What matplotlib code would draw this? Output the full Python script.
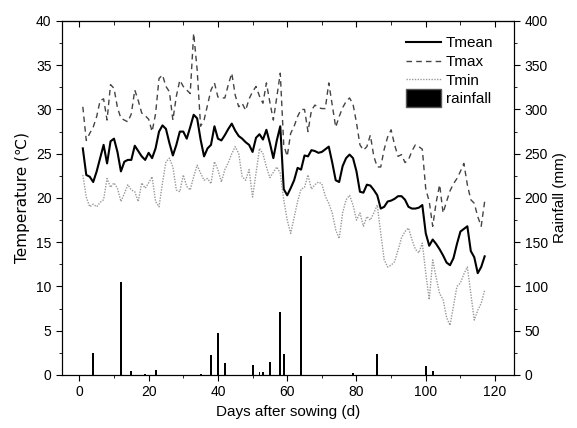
import numpy as np
import matplotlib
matplotlib.use("Agg")
import matplotlib.pyplot as plt
from matplotlib.patches import Patch, Rectangle
from matplotlib.legend_handler import HandlerPatch
from matplotlib.ticker import MultipleLocator

plt.rcParams["font.family"] = ["Liberation Sans", "DejaVu Sans"]

days = np.arange(1, 118)

tmean = [25.6, 22.6, 22.4, 21.8, 23.0, 24.5, 26.0, 23.9, 26.4, 26.7,
         25.2, 23.0, 24.1, 24.3, 24.3, 25.9, 25.3, 24.7, 24.3, 25.1,
         24.5, 25.6, 27.5, 28.2, 27.8, 26.2, 24.8, 26.0, 27.5, 27.5,
         26.7, 28.0, 29.4, 29.0, 26.6, 24.7, 25.6, 26.0, 28.1, 26.7,
         26.5, 27.1, 27.8, 28.4, 27.6, 27.0, 26.7, 26.3, 26.0, 25.2,
         26.8, 27.2, 26.6, 27.7, 26.2, 24.5, 26.5, 28.1, 21.0, 20.3,
         21.1, 22.0, 23.4, 23.2, 24.8, 24.7, 25.4, 25.3, 25.1, 25.2,
         25.5, 25.8, 24.0, 22.0, 21.8, 23.6, 24.5, 24.9, 24.5, 23.0,
         20.7, 20.6, 21.5, 21.4, 20.9, 20.3, 18.8, 19.0, 19.6, 19.7,
         19.9, 20.2, 20.2, 19.8, 19.0, 18.8, 18.8, 18.9, 19.2, 16.0,
         14.6, 15.3, 14.8, 14.2, 13.5, 12.7, 12.4, 13.2, 14.8, 16.2,
         16.5, 16.8, 14.0, 13.3, 11.5, 12.2, 13.4]

tmax = [30.3, 26.5, 27.3, 28.0, 29.2, 31.0, 31.2, 28.8, 32.8, 32.4,
        30.2, 29.0, 28.8, 28.6, 29.5, 32.2, 31.0, 29.6, 29.3, 28.9,
        27.5, 29.5, 33.5, 33.9, 32.6, 32.0, 28.8, 31.5, 33.3, 32.6,
        32.2, 31.8, 38.6, 34.5, 28.1, 28.8, 30.5, 32.2, 33.0, 31.4,
        31.3, 31.3, 32.8, 34.1, 31.6, 30.3, 30.7, 29.9, 31.2, 32.0,
        32.6, 31.5, 30.7, 33.0, 30.8, 28.8, 31.4, 34.1, 26.0, 24.7,
        27.3, 28.1, 29.2, 30.0, 30.0, 27.5, 29.9, 30.5, 30.2, 30.1,
        30.1, 33.0, 30.5, 28.0, 29.2, 30.2, 30.9, 31.3, 30.6, 28.5,
        26.0, 25.4, 25.8, 27.1, 24.7, 23.5, 23.5, 25.5, 26.9, 27.7,
        26.0, 24.7, 24.9, 24.0, 24.3, 25.3, 26.0, 25.8, 25.5, 21.0,
        19.6, 16.8, 19.5, 21.5, 18.3, 19.6, 20.8, 21.6, 22.2, 23.0,
        23.9, 21.5, 19.8, 19.4, 17.9, 16.8, 19.6]

tmin = [22.6, 20.1, 19.0, 19.3, 19.0, 19.5, 19.8, 22.2, 21.2, 21.7,
        21.1, 19.6, 20.5, 21.5, 20.9, 20.7, 19.6, 21.7, 21.1, 21.7,
        22.4, 19.6, 19.0, 21.7, 24.1, 24.5, 23.5, 20.9, 20.7, 22.6,
        21.3, 20.9, 22.4, 23.7, 22.8, 22.0, 22.2, 21.6, 24.1, 23.2,
        21.8, 23.2, 24.0, 25.0, 25.8, 25.0, 22.4, 22.0, 23.2, 20.1,
        22.8, 25.6, 25.0, 23.5, 22.3, 22.9, 23.5, 22.8, 19.8, 17.5,
        16.0, 17.8, 19.6, 21.0, 21.2, 22.6, 21.0, 21.5, 21.8, 21.6,
        20.2, 19.4, 18.3, 16.4, 15.4, 18.3, 19.8, 20.3, 19.2, 17.5,
        18.3, 16.8, 17.9, 17.5, 18.3, 19.2, 16.0, 13.0, 12.2, 12.4,
        12.8, 14.1, 15.5, 16.2, 16.6, 15.3, 14.2, 13.8, 14.9, 11.5,
        8.5, 13.0, 11.0, 9.2, 8.5, 6.5, 5.6, 7.8, 10.0, 10.4,
        11.4, 12.2, 9.2, 6.2, 7.3, 8.1, 9.6]

rain_days = [4, 12, 15, 19, 22, 35, 38, 40, 42, 50, 52, 53, 55, 58, 59, 64, 79, 86, 100, 102]
rain_mm = [25, 105, 4, 1, 6, 1, 23, 47, 14, 11, 3, 3, 15, 71, 24, 134, 2, 24, 10, 4]


def tall_box(legend, orig_handle, xdescent, ydescent, width, height, fontsize):
    # rainfall box in the legend is about as tall as the text
    return Rectangle((-xdescent, -ydescent - 0.35 * height), width, 1.7 * height)


fig = plt.figure(figsize=(5.77, 4.28), dpi=100)
ax1 = fig.add_axes([0.1075, 0.124, 0.7835, 0.827])
ax2 = ax1.twinx()

ax2.bar(rain_days, rain_mm, width=0.55, color="black")
ax1.plot(days, tmean, color="black", lw=1.5, ls="-")
ax1.plot(days, tmax, color="#444444", lw=1.0, ls=(0, (4, 3)))
ax1.plot(days, tmin, color="#999999", lw=1.0, ls=(0, (1, 1)))

ax1.set_xlim(-5, 125.5)
ax1.set_ylim(0, 40)
ax2.set_ylim(0, 400)

ax1.xaxis.set_major_locator(MultipleLocator(20))
ax1.xaxis.set_minor_locator(MultipleLocator(10))
ax1.yaxis.set_major_locator(MultipleLocator(5))
ax1.yaxis.set_minor_locator(MultipleLocator(2.5))
ax2.yaxis.set_major_locator(MultipleLocator(50))
ax2.yaxis.set_minor_locator(MultipleLocator(25))

ax1.tick_params(which="both", direction="out", labelsize=10)
ax1.tick_params(which="major", length=4)
ax1.tick_params(which="minor", length=2)
ax2.tick_params(which="both", direction="out", labelsize=10)
ax2.tick_params(which="major", length=4)
ax2.tick_params(which="minor", length=2)

# mirrored ticks on top, pointing in
top = ax1.secondary_xaxis("top")
top.xaxis.set_major_locator(MultipleLocator(20))
top.xaxis.set_minor_locator(MultipleLocator(10))
top.tick_params(which="both", direction="in", labeltop=False)
top.tick_params(which="major", length=4)
top.tick_params(which="minor", length=3)

ax1.set_xlabel("Days after sowing (d)", fontsize=11)
ax1.set_ylabel("Temperature (\u2103)", fontsize=11, family=["DejaVu Sans"])
ax2.set_ylabel("Rainfall (mm)", fontsize=11)

handles = [
    plt.Line2D([], [], color="black", lw=1.5),
    plt.Line2D([], [], color="#444444", lw=1.0, ls=(0, (4, 3))),
    plt.Line2D([], [], color="#999999", lw=1.0, ls=(0, (1, 1))),
    Patch(facecolor="black", edgecolor="#555555"),
]
ax2.legend(handles, ["Tmean", "Tmax", "Tmin", "rainfall"], loc="upper right",
           frameon=False, fontsize=11, handlelength=2.3, labelspacing=0.3,
           handletextpad=0.3, bbox_to_anchor=(0.985, 0.995),
           handler_map={Patch: HandlerPatch(patch_func=tall_box)})

fig.savefig("out.png", dpi=100)
